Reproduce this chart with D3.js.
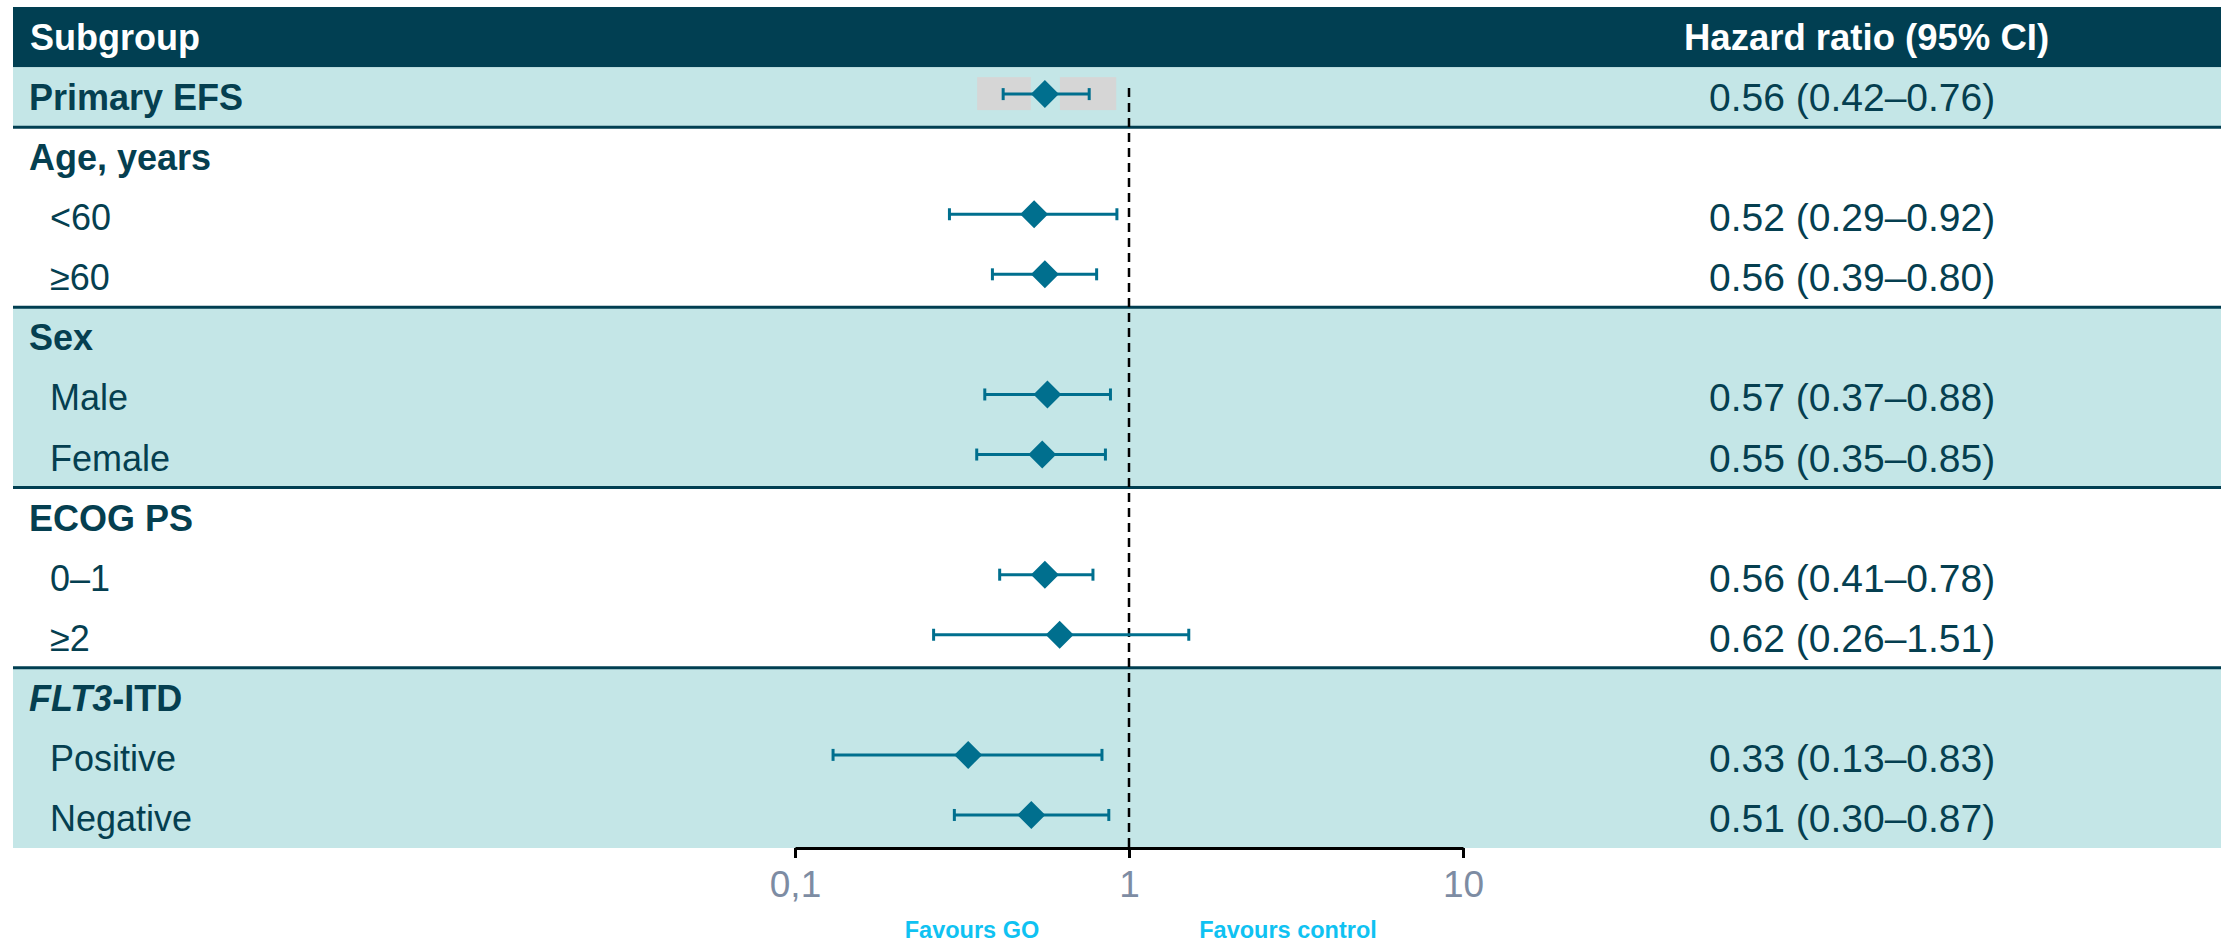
<!DOCTYPE html>
<html>
<head>
<meta charset="utf-8">
<script src="https://cdn.jsdelivr.net/npm/d3@7"></script>
<style>
  body { margin: 0; background: #fff; }
  text { font-family: "Liberation Sans", Arial, sans-serif; }
</style>
</head>
<body>
<div id="forest"></div>
<script>
// rows of the table (header row is drawn separately)
var labels = ["Primary EFS", "Age, years", "<60", "≥60", "Sex", "Male", "Female",
              "ECOG PS", "0–1", "≥2", "FLT3-ITD", "Positive", "Negative"],
    rowKind = ["main", "head", "sub", "sub", "head", "sub", "sub",
               "head", "sub", "sub", "head", "sub", "sub"],
    section = [0, 1, 1, 1, 2, 2, 2, 3, 3, 3, 4, 4, 4],
    hr    = [0.56, null, 0.52, 0.56, null, 0.57, 0.55, null, 0.56, 0.62, null, 0.33, 0.51],
    ciLow = [0.42, null, 0.29, 0.39, null, 0.37, 0.35, null, 0.41, 0.26, null, 0.13, 0.30],
    ciHigh= [0.76, null, 0.92, 0.80, null, 0.88, 0.85, null, 0.78, 1.51, null, 0.83, 0.87],
    hrText = ["0.56 (0.42–0.76)", "", "0.52 (0.29–0.92)", "0.56 (0.39–0.80)", "",
              "0.57 (0.37–0.88)", "0.55 (0.35–0.85)", "", "0.56 (0.41–0.78)",
              "0.62 (0.26–1.51)", "", "0.33 (0.13–0.83)", "0.51 (0.30–0.87)"],
    tickVals = [0.1, 1, 10],
    tickLabels = ["0,1", "1", "10"];

var w = 2233, h = 942;
var darkTeal = "#013f52", band = "#c4e6e7", markColor = "#006f8e",
    textColor = "#053f50", axisGrey = "#7d8ca3", favourColor = "#0fc2f2";

var svg = d3.select("#forest").append("svg")
    .attr("width", w)
    .attr("height", h);

var left = 13, right = 2221;
// row 0 is the header, rows 1..13 are the table
var y = d3.scaleBand()
    .domain(d3.range(labels.length + 1))
    .range([7, 848]);
var x = d3.scaleLog()
    .domain([0.1, 10])
    .range([795, 1463]);

var rows = labels.map(function(d, i) {
  return {label: d, kind: rowKind[i], sec: section[i], hr: hr[i],
          lo: ciLow[i], hi: ciHigh[i], txt: hrText[i], idx: i + 1};
});

// section shading
var sections = d3.groups(rows, function(d) { return d.sec; });
svg.selectAll(".band")
    .data(sections)
    .enter().append("rect")
      .attr("class", "band")
      .attr("x", left)
      .attr("width", right - left)
      .attr("y", function(d) { return y(d[1][0].idx); })
      .attr("height", function(d) { return y.step() * d[1].length; })
      .attr("fill", function(d) { return d[0] % 2 === 0 ? band : "#fff"; });

// separators between sections
svg.selectAll(".sep")
    .data(sections.slice(1))
    .enter().append("line")
      .attr("class", "sep")
      .attr("x1", left).attr("x2", right)
      .attr("y1", function(d) { return y(d[1][0].idx); })
      .attr("y2", function(d) { return y(d[1][0].idx); })
      .attr("stroke", darkTeal)
      .attr("stroke-width", 3);

// header
svg.append("rect")
    .attr("x", left).attr("y", y(0))
    .attr("width", right - left).attr("height", y.bandwidth())
    .attr("fill", darkTeal);
svg.append("text")
    .attr("x", 30).attr("y", y(0) + y.bandwidth() / 2 + 13)
    .attr("fill", "#fff").style("font-size", "36px").style("font-weight", "bold")
    .text("Subgroup");
svg.append("text")
    .attr("x", 1684).attr("y", y(0) + y.bandwidth() / 2 + 13)
    .attr("fill", "#fff").style("font-size", "36.5px").style("font-weight", "bold")
    .text("Hazard ratio (95% CI)");

// row labels
var lab = svg.selectAll(".label")
    .data(rows)
    .enter().append("text")
      .attr("class", "label")
      .attr("x", function(d) { return d.kind === "sub" ? 50 : 29; })
      .attr("y", function(d) { return y(d.idx) + y.bandwidth() / 2 + 13; })
      .attr("fill", textColor)
      .style("font-size", "36px")
      .style("font-weight", function(d) { return d.kind === "sub" ? "normal" : "bold"; });
lab.each(function(d) {
  var t = d3.select(this);
  if (d.label === "FLT3-ITD") {
    t.append("tspan").style("font-style", "italic").text("FLT3");
    t.append("tspan").text("-ITD");
  } else {
    t.text(d.label);
  }
});

// hazard ratio text
svg.selectAll(".hrtext")
    .data(rows.filter(function(d) { return d.txt; }))
    .enter().append("text")
      .attr("class", "hrtext")
      .attr("x", 1709)
      .attr("y", function(d) { return y(d.idx) + y.bandwidth() / 2 + 14; })
      .attr("fill", textColor)
      .style("font-size", "39px")
      .text(function(d) { return d.txt; });

var est = rows.filter(function(d) { return d.hr !== null; });
function cy(d) { return y(d.idx) + y.bandwidth() / 2 - 3; }

// grey box behind the primary estimate
var prim = est.filter(function(d) { return d.kind === "main"; });
svg.selectAll(".gboxL").data(prim).enter().append("rect")
    .attr("x", function(d) { return x(d.lo) - 26; })
    .attr("y", function(d) { return cy(d) - 17; })
    .attr("width", function(d) { return x(d.hr) - 14 - (x(d.lo) - 26); })
    .attr("height", 33)
    .attr("fill", "#d6d6d6");
svg.selectAll(".gboxR").data(prim).enter().append("rect")
    .attr("x", function(d) { return x(d.hr) + 15; })
    .attr("y", function(d) { return cy(d) - 17; })
    .attr("width", function(d) { return x(d.hi) + 27 - (x(d.hr) + 15); })
    .attr("height", 33)
    .attr("fill", "#d6d6d6");

// reference line at HR = 1
svg.append("line")
    .attr("x1", x(1)).attr("x2", x(1))
    .attr("y1", 88).attr("y2", 848)
    .attr("stroke", "#000")
    .attr("stroke-width", 2.5)
    .attr("stroke-dasharray", "9,6");

// confidence intervals
var ci = svg.selectAll(".ci").data(est).enter().append("g").attr("class", "ci");
ci.append("line")
    .attr("x1", function(d) { return x(d.lo); })
    .attr("x2", function(d) { return x(d.hi); })
    .attr("y1", cy).attr("y2", cy)
    .attr("stroke", markColor).attr("stroke-width", 3);
ci.append("line")
    .attr("x1", function(d) { return x(d.lo); })
    .attr("x2", function(d) { return x(d.lo); })
    .attr("y1", function(d) { return cy(d) - 6; })
    .attr("y2", function(d) { return cy(d) + 6; })
    .attr("stroke", markColor).attr("stroke-width", 3);
ci.append("line")
    .attr("x1", function(d) { return x(d.hi); })
    .attr("x2", function(d) { return x(d.hi); })
    .attr("y1", function(d) { return cy(d) - 6; })
    .attr("y2", function(d) { return cy(d) + 6; })
    .attr("stroke", markColor).attr("stroke-width", 3);

// point estimates
svg.selectAll(".diamond")
    .data(est)
    .enter().append("path")
      .attr("class", "diamond")
      .attr("transform", function(d) { return "translate(" + x(d.hr) + "," + cy(d) + ")"; })
      .attr("d", "M0,-14L14,0L0,14L-14,0Z")
      .attr("fill", markColor);

// x axis
var axis = svg.append("g")
    .attr("transform", "translate(0,848)")
    .call(d3.axisBottom(x)
      .tickValues(tickVals)
      .tickFormat(function(d, i) { return tickLabels[i]; })
      .tickSize(10)
      .tickSizeOuter(0)
      .tickPadding(13));
axis.select(".domain").attr("stroke", "#000").attr("stroke-width", 3);
axis.selectAll(".tick line").attr("stroke", "#000").attr("stroke-width", 3);
axis.selectAll(".tick text")
    .attr("fill", axisGrey)
    .style("font-size", "37px")
    .style("font-family", "Liberation Sans, Arial, sans-serif");

// favours labels
svg.append("text")
    .attr("x", 972).attr("y", 938)
    .attr("text-anchor", "middle")
    .attr("fill", favourColor)
    .style("font-size", "23.5px").style("font-weight", "bold")
    .text("Favours GO");
svg.append("text")
    .attr("x", 1288).attr("y", 938)
    .attr("text-anchor", "middle")
    .attr("fill", favourColor)
    .style("font-size", "23.5px").style("font-weight", "bold")
    .text("Favours control");
</script>
</body>
</html>
